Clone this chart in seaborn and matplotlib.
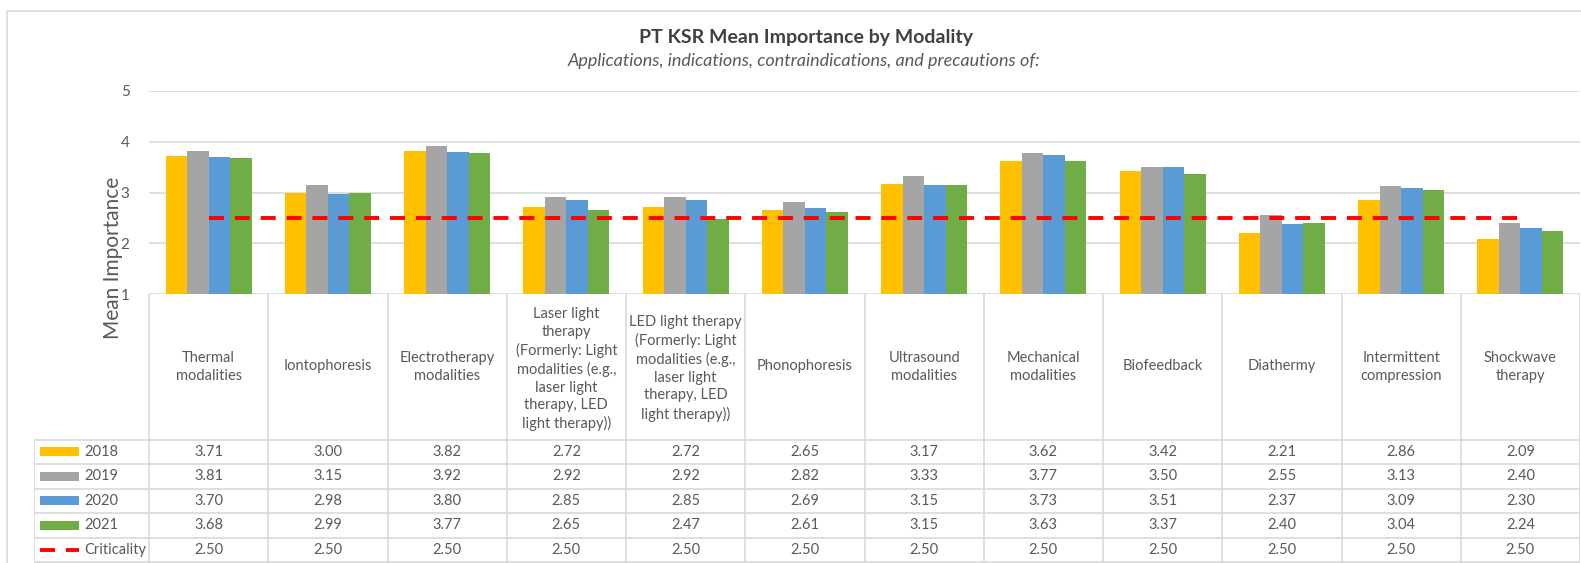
import matplotlib.pyplot as plt
import matplotlib.patches as mpatches
import numpy as np
import pandas as pd
import seaborn as sns

categories = [
    "Thermal\nmodalities",
    "Iontophoresis",
    "Electrotherapy\nmodalities",
    "Laser light\ntherapy\n(Formerly: Light\nmodalities (e.g.,\nlaser light\ntherapy, LED\nlight therapy))",
    "LED light therapy\n(Formerly: Light\nmodalities (e.g.,\nlaser light\ntherapy, LED\nlight therapy))",
    "Phonophoresis",
    "Ultrasound\nmodalities",
    "Mechanical\nmodalities",
    "Biofeedback",
    "Diathermy",
    "Intermittent\ncompression",
    "Shockwave\ntherapy",
]
years = ["2018", "2019", "2020", "2021"]
v2018 = [3.71, 3.00, 3.82, 2.72, 2.72, 2.65, 3.17, 3.62, 3.42, 2.21, 2.86, 2.09]
v2019 = [3.81, 3.15, 3.92, 2.92, 2.92, 2.82, 3.33, 3.77, 3.50, 2.55, 3.13, 2.40]
v2020 = [3.70, 2.98, 3.80, 2.85, 2.85, 2.69, 3.15, 3.73, 3.51, 2.37, 3.09, 2.30]
v2021 = [3.68, 2.99, 3.77, 2.65, 2.47, 2.61, 3.15, 3.63, 3.37, 2.40, 3.04, 2.24]
criticality = [2.50] * 12

colors = ["#FFC000", "#A5A5A5", "#5B9BD5", "#70AD47"]
red = "#FF0000"
grey_txt = "#595959"
grid_c = "#D9D9D9"

series = [v2018, v2019, v2020, v2021]
rows = []
for y, vals in zip(years, series):
    for i, v in enumerate(vals):
        rows.append({"cat": i, "year": y, "value": v})
df = pd.DataFrame(rows)

sns.set_style("white")
plt.rcParams["font.family"] = ["Lato", "DejaVu Sans"]

W, H = 1581, 563
fig = plt.figure(figsize=(W / 100, H / 100), dpi=100)

# chart area border
fig.add_artist(mpatches.Rectangle((7 / W, -0.1), 1.2, 1 - 11 / H + 0.1,
                                  transform=fig.transFigure, fill=False,
                                  edgecolor="#D9D9D9", lw=1.2))

x0, x1 = 149, 1580
ytop, ybot = 91, 294
ax = fig.add_axes([x0 / W, 1 - ybot / H, (x1 - x0) / W, (ybot - ytop) / H])
sns.barplot(data=df, x="cat", y="value", hue="year", hue_order=years,
            palette=colors, width=0.72, gap=0, ax=ax, legend=False,
            saturation=1, edgecolor="none")
dash = (3.85, 2.8)
ax.plot(range(12), criticality, color=red, lw=2.8, dashes=dash,
        dash_capstyle="butt", zorder=5)
ax.set_xlim(-0.5, 11.5)
ax.set_ylim(1, 5)
ax.set_yticks([1, 2, 3, 4, 5])
ax.set_yticklabels(["1", "2", "3", "4", "5"], fontsize=11, color=grey_txt)
ax.tick_params(axis="y", length=0, pad=14)
ax.set_xticks([])
ax.set_xlabel("")
ax.set_ylabel("")
ax.grid(axis="y", color=grid_c, lw=1.2)
ax.set_axisbelow(True)
for s in ax.spines.values():
    s.set_visible(False)

fig.text(113 / W, 1 - 258 / H, "Mean Importance", rotation=90, fontsize=15,
         color=grey_txt, ha="center", va="center")

fig.text(806 / W, 1 - 37 / H, "PT KSR Mean Importance by Modality",
         fontsize=14, fontweight="bold", color="#404040", ha="center", va="center")
fig.text(804 / W, 1 - 61 / H,
         "Applications, indications, contraindications, and precautions of:",
         fontsize=13, style="italic", color=grey_txt, ha="center", va="center")

# data table below the plot
colw = (x1 - x0) / 12
leg_left = 34
tx_left = -0.5 - (x0 - leg_left) / colw
tab = fig.add_axes([leg_left / W, 0, (x1 - leg_left) / W, 1 - ybot / H])
tab.set_xlim(tx_left, 11.5)
tab.set_ylim(H, ybot)
tab.axis("off")

head_bot = 439.5
rh = 24.5
row_tops = [head_bot + k * rh for k in range(6)]
lc = dict(color=grid_c, lw=1.2)
for i in range(13):
    tab.plot([i - 0.5, i - 0.5], [ybot, row_tops[-1]], **lc)
tab.plot([tx_left + 0.004, tx_left + 0.004], [head_bot, row_tops[-1]], **lc)
for yy in row_tops:
    tab.plot([tx_left, 11.5], [yy, yy], **lc)

line_px = 19.4
fs = 10.5
for i, c in enumerate(categories):
    n = c.count("\n") + 1
    # baseline alignment applies to the last line
    yb = 366 + (n - 1) / 2 * line_px + 4
    tab.text(i, yb, c, ha="center", va="baseline", fontsize=fs,
             color=grey_txt, linespacing=line_px / (fs * 100 / 72))

labels = years + ["Criticality"]
all_vals = series + [criticality]
for r, (lab, vals) in enumerate(zip(labels, all_vals)):
    yc = row_tops[r] + rh / 2
    for i, v in enumerate(vals):
        tab.text(i, yc, f"{v:.2f}", ha="center", va="center",
                 fontsize=fs, color=grey_txt)
    sx0 = tx_left + (40 - leg_left) / colw
    sx1 = tx_left + (79 - leg_left) / colw
    if r < 4:
        tab.add_patch(mpatches.Rectangle((sx0, yc - 4.5), sx1 - sx0, 9,
                                         color=colors[r], lw=0))
    else:
        tab.plot([sx0, sx1], [yc, yc], color=red, lw=2.8, dashes=dash,
                 dash_capstyle="butt")
    tab.text(tx_left + (84 - leg_left) / colw, yc, lab, ha="left", va="center",
             fontsize=fs, color=grey_txt)

fig.savefig("out.png", dpi=100, facecolor="white")
